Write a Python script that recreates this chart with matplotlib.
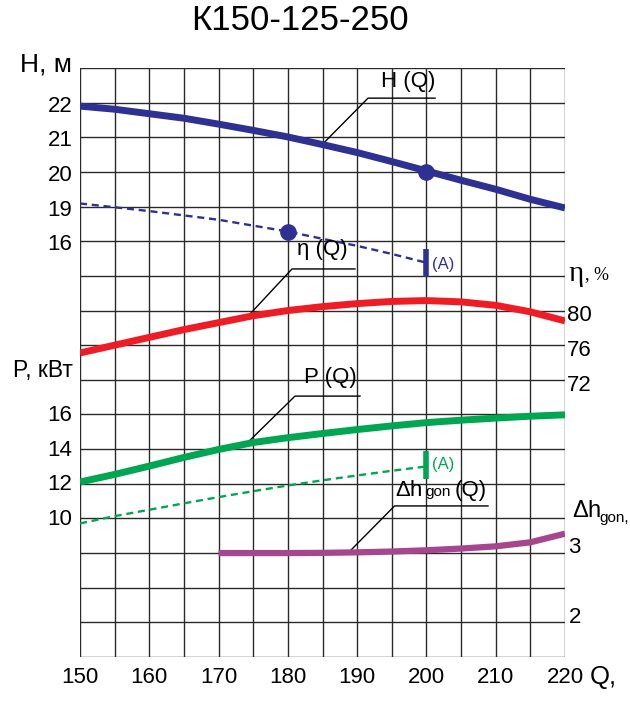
import numpy as np
import matplotlib
matplotlib.use("Agg")
import matplotlib.pyplot as plt

plt.rcParams["font.family"] = ["Liberation Sans", "DejaVu Sans"]
plt.rcParams["mathtext.fontset"] = "custom"
plt.rcParams["mathtext.rm"] = "Liberation Sans"
plt.rcParams["mathtext.it"] = "Liberation Sans"

# --- data ---
q = [150, 155, 160, 165, 170, 175, 180, 185, 190, 195, 200, 205, 210, 215, 220]
head = [21.90, 21.81, 21.68, 21.55, 21.38, 21.20, 21.01, 20.79,
        20.56, 20.30, 20.03, 19.76, 19.50, 19.21, 18.88]                # H, m
eta = [75.1, 76.0, 76.9, 77.8, 78.6, 79.4, 80.0, 80.45,
       80.8, 81.05, 81.15, 81.0, 80.6, 79.85, 78.8]                     # eta, %
power = [12.1, 12.54, 13.02, 13.52, 13.98, 14.38, 14.66, 14.9,
         15.13, 15.34, 15.53, 15.67, 15.79, 15.9, 15.98]                # P, kW

q_dash = [150, 160, 170, 180, 185, 190, 195, 200]
eta_dash = [19.09, 18.61, 17.86, 16.84, 16.21, 15.6, 14.9, 14.14]      # blue dashed, left scale
q_pdash = [150, 155, 160, 165, 170, 175, 180, 185, 190, 195, 200]
power_dash = [9.71, 10.13, 10.5, 10.87, 11.23, 11.57, 11.9, 12.2,
              12.48, 12.75, 13.0]                                       # green dashed, kW

q_npsh = [170, 175, 180, 185, 190, 195, 200, 205, 210, 215, 220]
npsh = [3.0, 3.0, 3.0, 3.003, 3.01, 3.022, 3.04, 3.065, 3.097, 3.155, 3.28]  # dh_gon

q_ticks = [150, 160, 170, 180, 190, 200, 210, 220]
h_ticks = [22, 21, 20, 19, 16]
p_ticks = [16, 14, 12, 10]
eta_ticks = [80, 76, 72]
npsh_ticks = [3, 2]


# each quantity has its own scale on the shared grid (grid rows 0..17)
def h_row(v):
    v = np.asarray(v, dtype=float)
    # left scale: 1 m per row down to 19, then 3 units per row
    return np.where(v >= 19, 16 + (v - 22), 12 + (v - 16) / 3)


def eta_row(v):
    return 10 + (np.asarray(v) - 80) / 4


def p_row(v):
    return 7 + (np.asarray(v) - 16) / 2


def npsh_row(v):
    return 3 + (np.asarray(v) - 3) * 2


blue = "#2e3192"
red = "#ee1c25"
green = "#00a651"
purple = "#a5468f"

fig = plt.figure(figsize=(6.3, 7.02), dpi=100)
ax = fig.add_axes([80 / 630, 45 / 702, 485 / 630, 589 / 702])
ax.set_xlim(150, 220)
ax.set_ylim(0, 17)
ax.axis("off")

# grid
for x in np.arange(150, 221, 5):
    ax.plot([x, x], [0, 17], color="#2a2a2a", lw=1.0, zorder=1)
for y in range(0, 18):
    ax.plot([150, 220], [y, y], color="#2a2a2a", lw=1.0, zorder=1)

# curves
ax.plot(q, h_row(head), color=blue, lw=5, solid_capstyle="butt", solid_joinstyle="round", zorder=3)
ax.plot(q_dash, h_row(eta_dash), color=blue, lw=1.7, ls=(0, (3, 2)), zorder=3)
ax.plot(q, eta_row(eta), color=red, lw=5, solid_capstyle="butt", solid_joinstyle="round", zorder=3)
ax.plot(q, p_row(power), color=green, lw=5, solid_capstyle="butt", solid_joinstyle="round", zorder=3)
ax.plot(q_pdash, p_row(power_dash), color=green, lw=1.7, ls=(0, (3, 2)), zorder=3)
ax.plot(q_npsh, npsh_row(npsh), color=purple, lw=4.5, solid_capstyle="butt", solid_joinstyle="round", zorder=3)

# marked points
ax.plot([200], h_row([20.0]), "o", color=blue, ms=11, zorder=4)
ax.plot([180], h_row([16.84]), "o", color=blue, ms=11, zorder=4)

# (A) bars
ax.plot([200, 200], [10.97, 11.78], color=blue, lw=4, solid_capstyle="butt", zorder=4)
ax.text(200.8, 11.32, "(A)", color=blue, fontsize=12, va="center", ha="left")
ax.plot([200, 200], [5.14, 5.96], color=green, lw=4, solid_capstyle="butt", zorder=4)
ax.text(200.8, 5.55, "(A)", color=green, fontsize=12, va="center", ha="left")

# leaders and curve names
lead = dict(color="black", lw=1.0, zorder=2)
ax.plot([184.9, 191.57, 201.24], [14.78, 16.13, 16.13], **lead)
ax.text(197.4, 16.62, "H (Q)", fontsize=16, ha="center", va="center")
ax.plot([174.4, 180.6, 189.69], [9.87, 11.2, 11.2], **lead)
ax.text(185.0, 11.75, "η (Q)", fontsize=16, ha="center", va="center")
ax.plot([174.25, 181.03, 190.41], [6.2, 7.53, 7.53], **lead)
ax.text(186.1, 8.07, "P (Q)", fontsize=16, ha="center", va="center")
ax.plot([188.68, 195.4, 208.89], [3.0, 4.36, 4.36], **lead)
ax.text(195.4, 4.82, r"$\Delta$h", fontsize=16, ha="left", va="center")
ax.text(199.8, 4.76, "gon", fontsize=11, ha="left", va="center")
ax.text(204.0, 4.82, "(Q)", fontsize=16, ha="left", va="center")

# left scales
for v in h_ticks:
    ax.text(148.9, h_row(v) - 0.1, str(v), fontsize=16, ha="right", va="center")
for v in p_ticks:
    ax.text(148.9, p_row(v) - 0.03, str(v), fontsize=16, ha="right", va="center")
ax.text(148.9, 17.1, "H, м", fontsize=19, ha="right", va="center")
ax.text(148.9, 8.28, "P, кВт", fontsize=16.5, ha="right", va="center")

# right scales
for v in eta_ticks:
    ax.text(220.3, eta_row(v) - 0.15, str(v), fontsize=16, ha="left", va="center")
ax.text(220.5, 11.05, "η", fontsize=21, family="Liberation Serif", ha="left", va="center")
ax.text(222.9, 11.05, ", %", fontsize=13, family="Liberation Serif", ha="left", va="center")
for v in npsh_ticks:
    ax.text(220.5, npsh_row(v) + 0.15, str(v), fontsize=16, ha="left", va="center")
ax.text(221.0, 4.2, r"$\Delta$h", fontsize=17, ha="left", va="center")
ax.text(224.9, 4.0, "gon,", fontsize=11, ha="left", va="center")

# bottom scale
for v in q_ticks:
    ax.text(v, -0.58, str(v), fontsize=16, ha="center", va="center")
ax.text(223.6, -0.58, "Q,", fontsize=18.5, ha="left", va="center")

fig.text(300 / 630, 1 - 21 / 702, "К150-125-250", fontsize=25, ha="center", va="center")

fig.savefig("out.png", dpi=100)
